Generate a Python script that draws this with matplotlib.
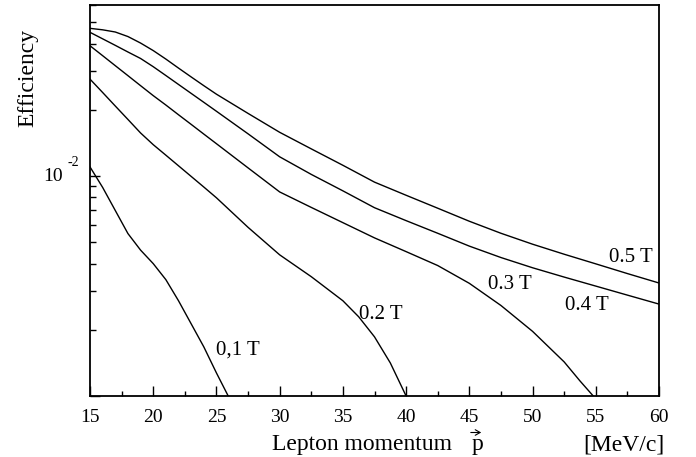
import matplotlib
matplotlib.use("Agg")
import matplotlib.pyplot as plt
from matplotlib.ticker import LogLocator, NullFormatter, MultipleLocator
from matplotlib.patches import FancyArrowPatch

plt.rcParams['font.family'] = ['Liberation Serif', 'DejaVu Serif']

# ---- data ----
x_05 = [15, 16, 17, 18, 19, 20, 21, 22, 23, 24, 25, 27.5, 30, 32.5, 35, 37.5, 40,
        42.5, 45, 47.5, 50, 52.5, 55, 57.5, 60]
y_05 = [0.04699, 0.04627, 0.04522, 0.04312, 0.04028, 0.03723, 0.03406, 0.03099,
        0.02825, 0.02578, 0.02358, 0.01928, 0.01582, 0.01330, 0.01120, 0.009389,
        0.008182, 0.007145, 0.006233, 0.005496, 0.004902, 0.004413, 0.003990,
        0.003604, 0.003265]

x_04 = [15, 16, 17, 18, 19, 20, 21, 22, 23, 24, 25, 27.5, 30, 32.5, 35, 37.5, 40,
        42.5, 45, 47.5, 50, 52.5, 55, 57.5, 60]
y_04 = [0.04507, 0.04210, 0.03932, 0.03668, 0.03427, 0.03145, 0.02867, 0.02611,
        0.02378, 0.02166, 0.01972, 0.01557, 0.01224, 0.01018, 0.008570, 0.007183,
        0.006273, 0.005496, 0.004804, 0.004263, 0.003830, 0.003474, 0.003161,
        0.002876, 0.002618]

x_03 = [15, 16, 17, 18, 19, 20, 21, 22, 23, 24, 25, 27.5, 30, 32.5, 35, 37.5, 40,
        42.5, 45, 47.5, 50, 52.5, 53.75, 54.8]
y_03 = [0.03916, 0.03529, 0.03178, 0.02863, 0.02578, 0.02323, 0.02105, 0.01901,
        0.01719, 0.01553, 0.01404, 0.01090, 0.008472, 0.007205, 0.006142, 0.005237,
        0.004535, 0.003920, 0.003254, 0.002580, 0.001968, 0.001429, 0.001171, 0.001]

x_02 = [15, 16, 17, 18, 19, 20, 21, 22, 23, 24, 25, 27.5, 30, 32.5, 35, 36.25,
        37.5, 38.75, 40]
y_02 = [0.02761, 0.02400, 0.02083, 0.01810, 0.01571, 0.01390, 0.01245, 0.01114,
        0.009969, 0.008920, 0.007969, 0.005848, 0.004385, 0.003488, 0.002711,
        0.002292, 0.001858, 0.001414, 0.001]

x_01 = [15, 16, 17, 18, 19, 20, 21, 22, 23, 24, 25, 25.93]
y_01 = [0.01101, 0.008883, 0.006975, 0.005479, 0.004607, 0.004000, 0.003381,
        0.002711, 0.002130, 0.001673, 0.001273, 0.001]

series = [(x_05, y_05), (x_04, y_04), (x_03, y_03), (x_02, y_02), (x_01, y_01)]

labels = ["0,1 T", "0.2 T", "0.3 T", "0.4 T", "0.5 T"]
label_x = [26.7, 38.0, 48.2, 54.3, 57.75]
label_y = [0.00162, 0.00234, 0.00321, 0.00259, 0.00428]

x_ticks = [15, 20, 25, 30, 35, 40, 45, 50, 55, 60]

# ---- figure ----
W, H = 696, 457
fig = plt.figure(figsize=(W/100, H/100), dpi=100)
ax = fig.add_axes([90/W, 1 - 396/H, (659-90)/W, (396-5)/H])

for xs, ys in series:
    ax.plot(xs, ys, color='black', lw=1.0)

ax.set_yscale('log')
ax.set_xlim(15, 60)
ax.set_ylim(1e-3, 6e-2)

ax.set_xticks(x_ticks)
ax.set_xticklabels([str(t) for t in x_ticks], fontsize=14)
ax.xaxis.set_minor_locator(MultipleLocator(2.5))

ax.yaxis.set_major_locator(LogLocator(base=10, numticks=10))
ax.yaxis.set_minor_locator(LogLocator(base=10, subs=range(2, 10), numticks=20))
ax.yaxis.set_major_formatter(NullFormatter())
ax.yaxis.set_minor_formatter(NullFormatter())

ax.tick_params(axis='x', which='major', direction='in', length=7.2, width=1.0,
               top=False, pad=9.5)
ax.tick_params(axis='x', which='minor', direction='in', length=3.4, width=1.0,
               top=False)
ax.tick_params(axis='y', which='major', direction='in', length=7.2, width=1.0,
               right=False)
ax.tick_params(axis='y', which='minor', direction='in', length=4.3, width=1.0,
               right=False)

for s in ax.spines.values():
    s.set_linewidth(1.3)

# y tick label 10^-2
ytr = ax.get_yaxis_transform()
ax.text(-0.0475, 1e-2, "10", transform=ytr, ha='right', va='center', fontsize=14)
ax.text(-0.0387, 0.01155, "-2", transform=ytr, ha='left', va='center', fontsize=10)

# curve labels
for t, lx, ly in zip(labels, label_x, label_y):
    ax.text(lx, ly, t, ha='center', va='center', fontsize=15)

# axis titles
fig.text(28/W, 1 - 77.5/H, "Efficiency", rotation=90, ha='center',
         va='center', fontsize=17)
fig.text(271.7/W, 1 - 450/H, "Lepton momentum", ha='left', va='baseline',
         fontsize=17)
fig.text(471.7/W, 1 - 450/H, "p", ha='left', va='baseline', fontsize=17)
arrow = FancyArrowPatch((468/W, 1 - 432.5/H), (484/W, 1 - 432.5/H),
                        transform=fig.transFigure,
                        arrowstyle='->,head_length=3.5,head_width=2',
                        lw=0.8, color='black', mutation_scale=1)
fig.patches.append(arrow)
fig.text(583/W, 1 - 450/H, "[MeV/c]", ha='left', va='baseline', fontsize=17)

fig.savefig("out.png", dpi=100)
